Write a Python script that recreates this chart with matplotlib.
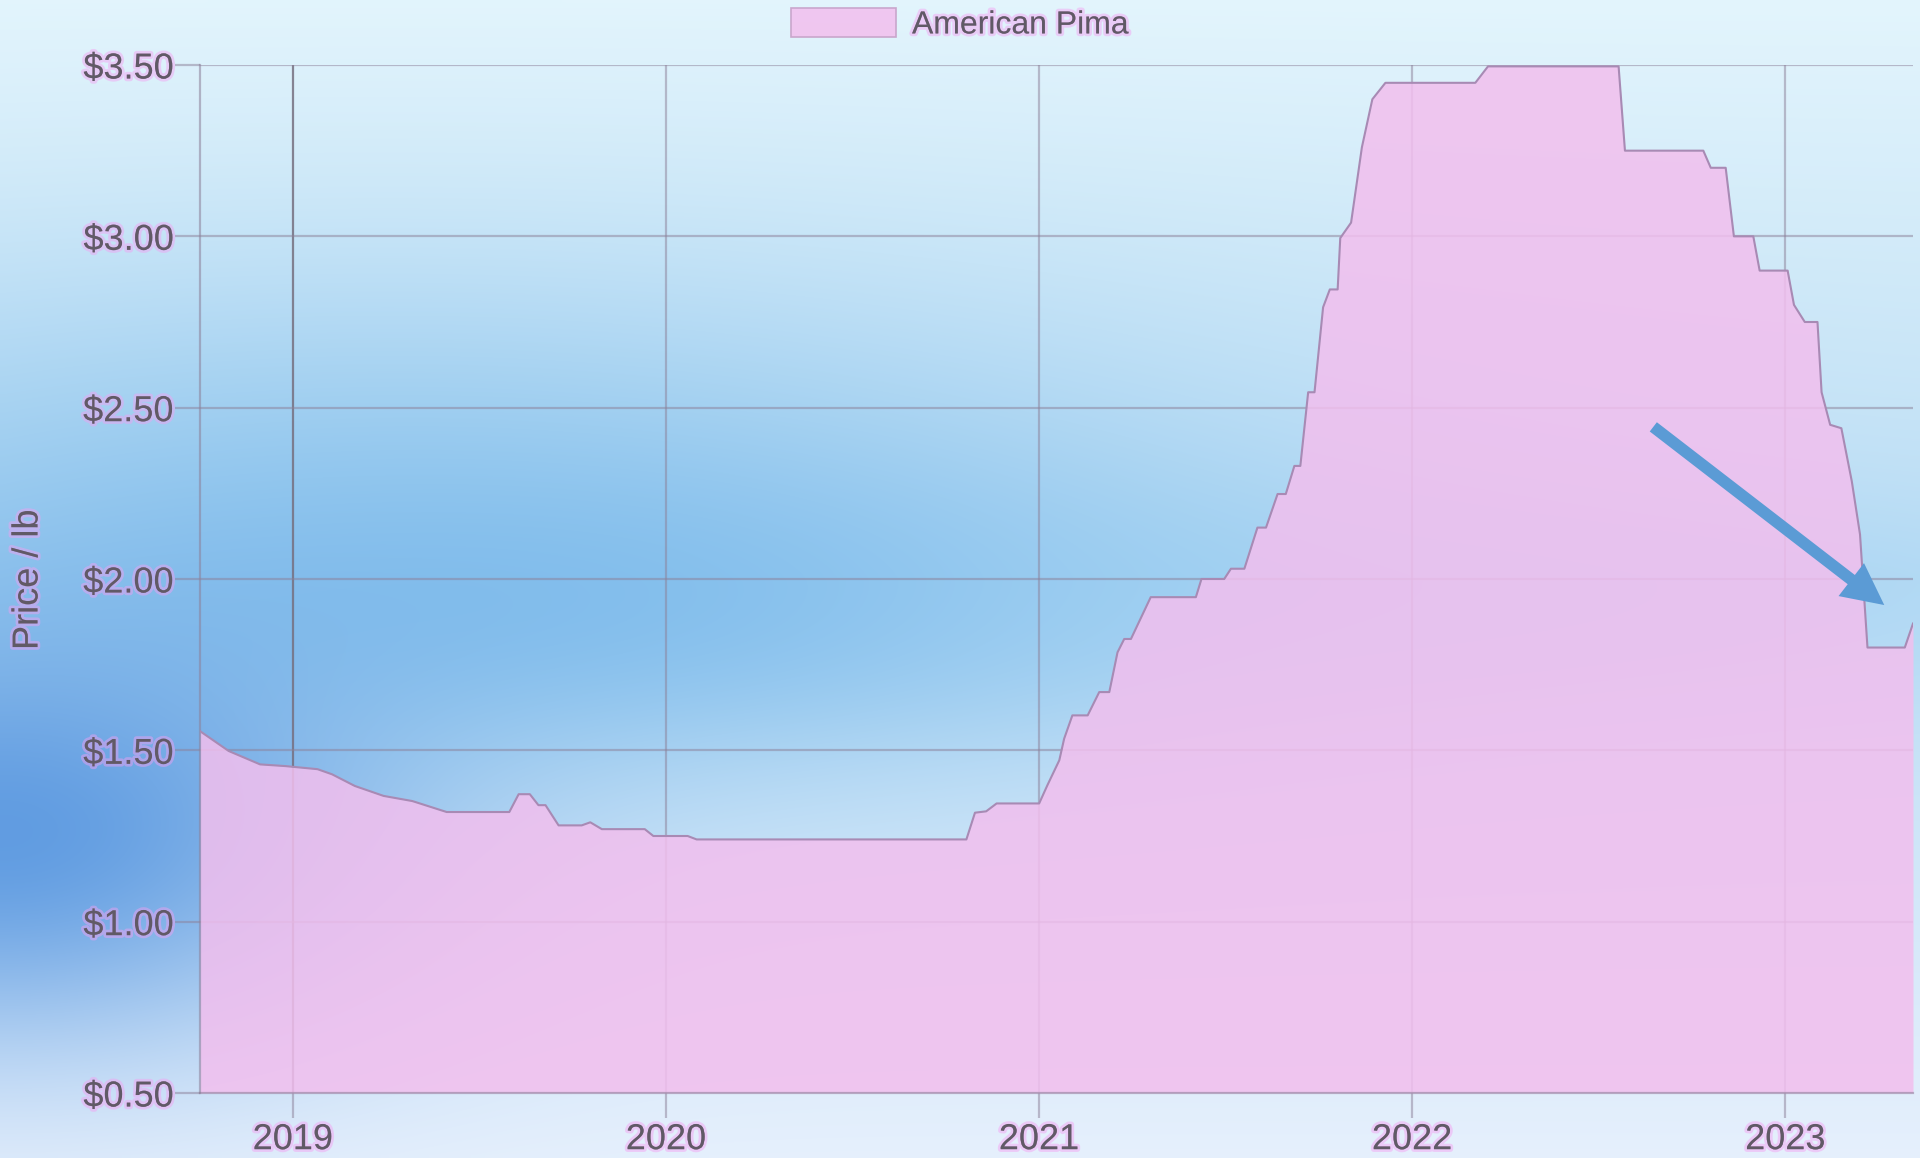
import numpy as np
import matplotlib.pyplot as plt
import matplotlib.patheffects as pe

plt.rcParams['font.family'] = ['Liberation Sans', 'DejaVu Sans']

series_name = 'American Pima'
y_title = 'Price / lb'

# weekly price steps (decimal year, $ per lb)
years = [
  2018.751, 2018.828, 2018.912, 2018.980, 2019.066, 2019.105, 2019.166, 2019.243,
  2019.320, 2019.412, 2019.580, 2019.605, 2019.635, 2019.658, 2019.677, 2019.712,
  2019.774, 2019.797, 2019.828, 2019.943, 2019.966, 2020.058, 2020.082, 2020.805,
  2020.828, 2020.858, 2020.886, 2021.000, 2021.022, 2021.054, 2021.067, 2021.089,
  2021.130, 2021.161, 2021.188, 2021.210, 2021.228, 2021.246, 2021.299, 2021.420,
  2021.435, 2021.496, 2021.514, 2021.550, 2021.585, 2021.608, 2021.639, 2021.661,
  2021.684, 2021.700, 2021.721, 2021.738, 2021.761, 2021.779, 2021.800, 2021.807,
  2021.836, 2021.865, 2021.893, 2021.928, 2022.169, 2022.203, 2022.553, 2022.570,
  2022.780, 2022.800, 2022.840, 2022.862, 2022.914, 2022.931, 2023.006, 2023.023,
  2023.052, 2023.086, 2023.097, 2023.120, 2023.150, 2023.178, 2023.200, 2023.220,
  2023.320, 2023.342,
]
prices = [
  1.556, 1.498, 1.459, 1.454, 1.445, 1.430, 1.396, 1.367,
  1.352, 1.320, 1.320, 1.372, 1.372, 1.340, 1.340, 1.281,
  1.281, 1.290, 1.270, 1.270, 1.250, 1.250, 1.240, 1.240,
  1.318, 1.322, 1.345, 1.345, 1.398, 1.471, 1.534, 1.602,
  1.602, 1.670, 1.670, 1.786, 1.825, 1.825, 1.947, 1.947,
  2.000, 2.000, 2.030, 2.030, 2.150, 2.150, 2.248, 2.248,
  2.330, 2.330, 2.545, 2.545, 2.793, 2.845, 2.845, 2.995,
  3.040, 3.260, 3.400, 3.448, 3.448, 3.496, 3.496, 3.250,
  3.250, 3.200, 3.200, 3.000, 3.000, 2.900, 2.900, 2.800,
  2.750, 2.750, 2.545, 2.450, 2.440, 2.285, 2.130, 1.800,
  1.800, 1.870,
]
year_ticks = [2019, 2020, 2021, 2022, 2023]
price_ticks = [0.5, 1.0, 1.5, 2.0, 2.5, 3.0, 3.5]

text_color = '#605a66'
grid_color = '#8c8098'
fill_color = '#f2bfee'
glow = [pe.withStroke(linewidth=4, foreground=(0.96, 0.62, 0.95, 0.45))]

fig = plt.figure(figsize=(19.2, 11.58), dpi=100)

# soft blue backdrop
h, w = 232, 384
gx, gy = np.meshgrid(np.linspace(0, 1, w), np.linspace(0, 1, h))
t = gy[..., None]
top = np.array([0.89, 0.96, 0.99])
mid = np.array([0.74, 0.87, 0.96])
low = np.array([0.90, 0.94, 0.99])
bg = np.where(t < 0.5, top + (mid - top) * (t / 0.5), mid + (low - mid) * ((t - 0.5) / 0.5))
blobs = [
  ((0.20, 0.45, 0.45, 0.22), (0.55, 0.77, 0.93), 0.75),
  ((0.30, 0.52, 0.30, 0.12), (0.47, 0.72, 0.92), 0.70),
  ((0.00, 0.72, 0.20, 0.18), (0.36, 0.60, 0.88), 0.95),
  ((0.78, 0.52, 0.30, 0.09), (0.60, 0.81, 0.95), 0.50),
]
for (cx, cy, sx, sy), col, k in blobs:
  wgt = (k * np.exp(-((gx - cx) / sx) ** 2 - ((gy - cy) / sy) ** 2))[..., None]
  bg = bg * (1 - wgt) + np.array(col) * wgt
bg_ax = fig.add_axes([0, 0, 1, 1], zorder=-10)
bg_ax.imshow(np.clip(bg, 0, 1), aspect='auto', interpolation='bilinear')
bg_ax.axis('off')

ax = fig.add_axes([200 / 1920, 65 / 1158, 1713 / 1920, 1028 / 1158])
ax.set_facecolor('none')
ax.fill_between(years, prices, 0.5, color=fill_color, alpha=0.85, lw=0, label=series_name, zorder=2)
ax.plot(years, prices, color='#a88ab4', lw=1.5, zorder=3)

ax.set_xlim(years[0], years[-1])
ax.set_ylim(0.5, 3.5)
ax.set_xticks(year_ticks)
ax.set_xticklabels([str(y) for y in year_ticks])
ax.set_yticks(price_ticks)
ax.set_yticklabels([f'${p:.2f}' for p in price_ticks])

ax.set_axisbelow(True)
ax.grid(True, color=grid_color, alpha=0.5, lw=1.6)
ax.get_xgridlines()[0].set_color('#767080')
ax.get_xgridlines()[0].set_alpha(0.85)
ax.tick_params(axis='both', length=18, width=1.6, color=(0.55, 0.5, 0.6, 0.5),
               labelsize=26, labelcolor=text_color)
ax.tick_params(axis='x', pad=3)
ax.tick_params(axis='y', pad=1)
for s in ['top', 'right']:
  ax.spines[s].set_visible(False)
for s in ['left', 'bottom']:
  ax.spines[s].set_color((0.55, 0.5, 0.6, 0.55))
  ax.spines[s].set_linewidth(1.6)
for lab in ax.get_xticklabels() + ax.get_yticklabels():
  lab.set_path_effects(glow)

fig.text(28 / 1920, 1 - 580 / 1158, y_title, rotation=90, ha='center', va='center',
         fontsize=26, color=text_color, path_effects=glow)

leg = fig.legend(loc='center', bbox_to_anchor=(0.5, 0.979), frameon=False,
                 fontsize=23, handlelength=3.3, handleheight=1.0, handletextpad=0.5)
for txt in leg.get_texts():
  txt.set_color(text_color)
  txt.set_path_effects(glow)
for hnd in leg.legend_handles:
  hnd.set_edgecolor('#c9a6cc')
  hnd.set_linewidth(1.2)

ax.annotate('', xy=(2023.265, 1.924), xytext=(2022.646, 2.444),
            arrowprops=dict(arrowstyle='simple,head_width=1.5,head_length=1.5,tail_width=0.42',
                            mutation_scale=20, color='#5b9bd5', lw=0, shrinkA=0, shrinkB=0),
            zorder=5)

fig.savefig('out.png', dpi=100)
